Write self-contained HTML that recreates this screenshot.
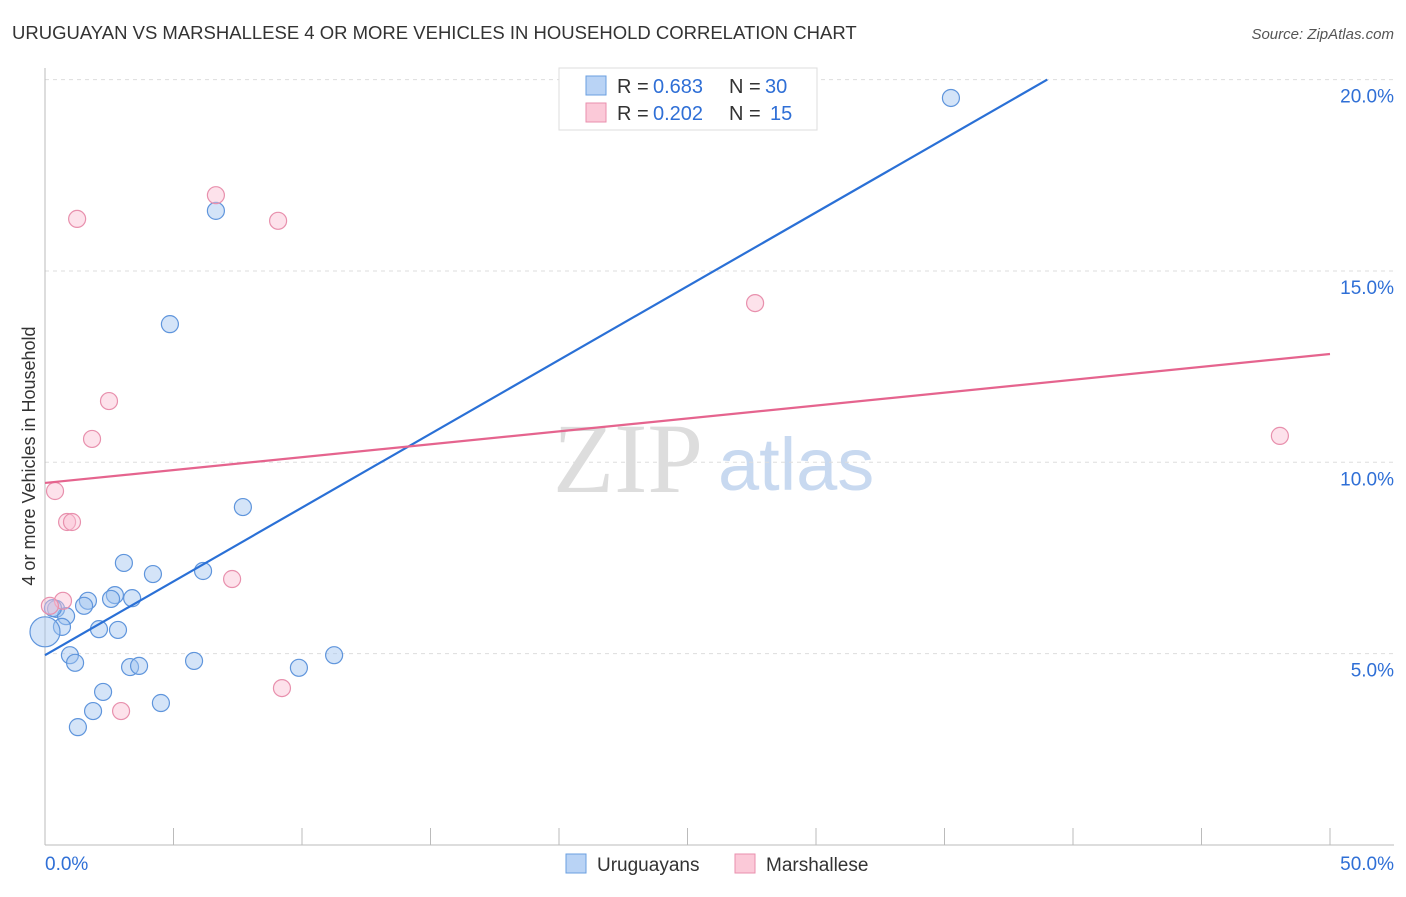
<!DOCTYPE html>
<html><head><meta charset="utf-8"><style>
body{margin:0;background:#fff;font-family:"Liberation Sans",sans-serif}
</style></head><body>
<svg width="1406" height="892" xmlns="http://www.w3.org/2000/svg" style="font-family:'Liberation Sans',sans-serif">
<text x="12" y="39" font-size="18.5" fill="#333">URUGUAYAN VS MARSHALLESE 4 OR MORE VEHICLES IN HOUSEHOLD CORRELATION CHART</text>
<text x="1394" y="39" font-size="15" fill="#555" font-style="italic" text-anchor="end">Source: ZipAtlas.com</text>
<text x="35" y="456" font-size="18" fill="#333" text-anchor="middle" transform="rotate(-90 35 456)">4 or more Vehicles in Household</text>
<g><text x="553" y="492" font-size="100" fill="#ddd" font-family="Liberation Serif">ZIP</text><text x="718" y="490" font-size="74" fill="#c8d9f0">atlas</text></g>
<g id="grid"></g><g id="axes"></g><g id="marks"></g>
<g>
<rect x="559" y="68" width="258" height="62" fill="#fff" stroke="#ddd"/>
<rect x="586" y="76" width="20" height="19" fill="#b9d3f5" stroke="#6a9fe0"/>
<rect x="586" y="103" width="20" height="19" fill="#fbc9d8" stroke="#ea8fae"/>
<text x="617" y="93" font-size="20" fill="#333">R =</text><text x="653" y="93" font-size="20" fill="#2f6fd6">0.683</text>
<text x="729" y="93" font-size="20" fill="#333">N =</text><text x="765" y="93" font-size="20" fill="#2f6fd6">30</text>
<text x="617" y="120" font-size="20" fill="#333">R =</text><text x="653" y="120" font-size="20" fill="#2f6fd6">0.202</text>
<text x="729" y="120" font-size="20" fill="#333">N =</text><text x="770" y="120" font-size="20" fill="#2f6fd6">15</text>
</g>
<g>
<rect x="566" y="854" width="20" height="19" fill="#b9d3f5" stroke="#6a9fe0"/>
<text x="597" y="871" font-size="19" fill="#333">Uruguayans</text>
<rect x="735" y="854" width="20" height="19" fill="#fbc9d8" stroke="#ea8fae"/>
<text x="766" y="871" font-size="19" fill="#333">Marshallese</text>
</g>
</svg>
<script>
const blueX=[35.25,6.65,4.86,7.70,3.07,4.20,6.15,2.72,2.57,3.39,1.67,1.52,0.43,0.82,0.66,2.10,2.84,0.97,1.17,3.31,3.66,5.80,9.88,11.25,2.26,1.87,4.51,1.28,0.0,0.31];
const blueY=[19.52,16.57,13.61,8.83,7.37,7.08,7.16,6.53,6.43,6.45,6.38,6.25,6.17,5.98,5.70,5.64,5.62,4.96,4.76,4.65,4.68,4.81,4.63,4.96,4.00,3.50,3.71,3.08,5.57,6.19];
const pinkX=[6.65,1.25,9.07,27.63,2.49,1.83,48.05,0.39,0.86,1.05,7.28,0.70,0.19,9.22,2.96];
const pinkY=[16.98,16.36,16.31,14.16,11.60,10.61,10.69,9.25,8.44,8.44,6.95,6.38,6.25,4.10,3.50];
const blueLine=[[0,4.96],[39.0,20]];
const pinkLine=[[0,9.46],[50,12.83]];
const yTicks=[5,10,15,20];
const yTickLabels=["5.0%","10.0%","15.0%","20.0%"];
const xTickLabels=["0.0%","50.0%"];
const NS="http://www.w3.org/2000/svg";
const sx=v=>45+v/50*1285, sy=v=>845-v*38.27;
function mk(t,a,p){const e=document.createElementNS(NS,t);for(const k in a)e.setAttribute(k,a[k]);p.appendChild(e);return e;}
const grid=document.getElementById('grid'),axes=document.getElementById('axes'),marks=document.getElementById('marks');
yTicks.forEach((t,i)=>{
 const l=mk('line',{x1:45,x2:1394,y1:sy(t),y2:sy(t),stroke:'#ddd','stroke-dasharray':'4,4'},grid);
 
 
 const tx=mk('text',{x:1394,y:sy(t)+23,'font-size':19,fill:'#2f6fd6','text-anchor':'end'},axes);tx.textContent=yTickLabels[i];
 
 
});
mk('line',{x1:45,x2:45,y1:68,y2:845,stroke:'#bbb'},axes);
const xa=mk('line',{x1:45,x2:1394,y1:845,y2:845,stroke:'#bbb'},axes);


for(let i=0;i<=10;i++){mk('line',{x1:sx(i*5),x2:sx(i*5),y1:828,y2:845,stroke:'#bbb'},axes);}
const xl0=mk('text',{x:45,y:870,'font-size':19,fill:'#2f6fd6'},axes);xl0.textContent=xTickLabels[0];


const xl1=mk('text',{x:1394,y:870,'font-size':19,fill:'#2f6fd6','text-anchor':'end'},axes);xl1.textContent=xTickLabels[1];


blueX.forEach((x,i)=>{
 const c=mk('circle',{cx:sx(x),cy:sy(blueY[i]),r:(x===0?15:8.5),fill:'rgba(160,195,240,0.45)',stroke:'#5f95dc','stroke-width':1.2},marks);
 
 
});
pinkX.forEach((x,i)=>{
 const c=mk('circle',{cx:sx(x),cy:sy(pinkY[i]),r:8.5,fill:'rgba(250,190,210,0.45)',stroke:'#e890ad','stroke-width':1.2},marks);
 
 
});
const bl=mk('line',{x1:sx(blueLine[0][0]),y1:sy(blueLine[0][1]),x2:sx(blueLine[1][0]),y2:sy(blueLine[1][1]),stroke:'#2a70d6','stroke-width':2.2},marks);


const pl=mk('line',{x1:sx(pinkLine[0][0]),y1:sy(pinkLine[0][1]),x2:sx(pinkLine[1][0]),y2:sy(pinkLine[1][1]),stroke:'#e5648e','stroke-width':2.2},marks);


</script>
</body></html>
